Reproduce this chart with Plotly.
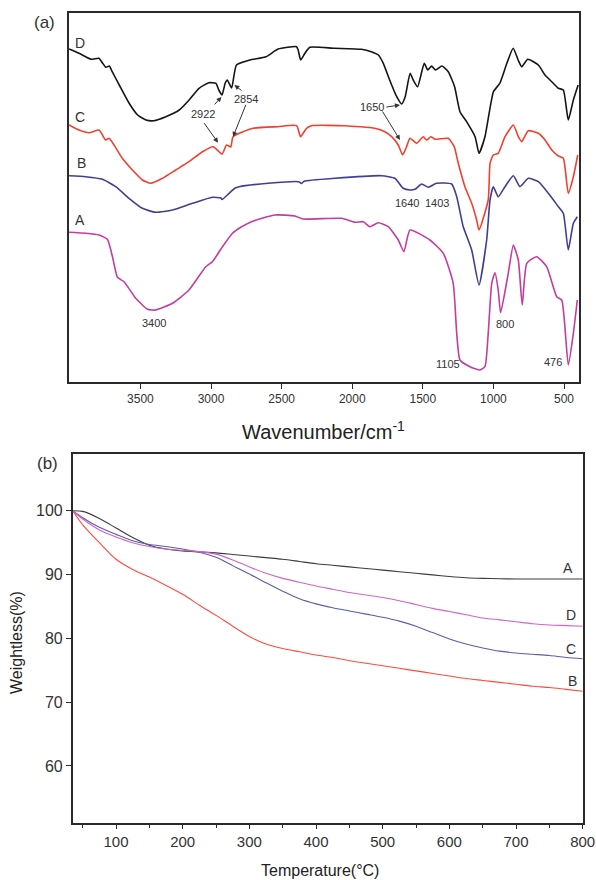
import plotly.graph_objects as go

# ---------------- (a) FTIR spectra (transmittance, arbitrary offset units) ----------------
wn_D = [4005, 3935, 3850, 3795, 3770, 3745, 3720, 3700, 3650, 3580,
        3520, 3460, 3405, 3320, 3225, 3155, 3085, 3015, 2965, 2945,
        2922, 2900, 2885, 2854, 2820, 2725, 2610, 2525, 2395, 2383,
        2365, 2335, 2300, 2125, 1935, 1865, 1815, 1780, 1735, 1685,
        1650, 1625, 1590, 1568, 1537, 1490, 1465, 1438, 1410, 1365,
        1320, 1275, 1237, 1190, 1130, 1102, 1060, 1000, 955, 905,
        860, 825, 800, 757, 682, 635, 587, 540, 505, 470,
        434, 400]
tr_D = [333, 328.7, 322.7, 323.7, 319.3, 314.7, 316, 310.3, 297, 278.7,
        267, 262, 261.3, 265.3, 272, 282, 293.7, 299.3, 298.7, 292,
        287, 298.7, 302, 294, 317, 322, 325.3, 333, 335.3, 332,
        322, 328.7, 334.7, 333.7, 332.7, 330.3, 327, 318.7, 302, 285.3,
        278, 285.3, 308.7, 302, 295.3, 318.7, 312, 316, 312, 316,
        310.3, 295.3, 270.3, 260.3, 245.3, 228.7, 245.3, 290.3, 298.7, 318.7,
        333.7, 322, 315.3, 322.7, 317, 307, 300.3, 293.7, 292, 262,
        282, 297]

wn_C = [4005, 3935, 3864, 3793, 3769, 3746, 3722, 3687, 3628, 3557,
        3486, 3427, 3344, 3250, 3156, 3061, 2985, 2922, 2890, 2860,
        2844, 2702, 2525, 2394, 2366, 2324, 2288, 2052, 1840, 1769,
        1721, 1674, 1643, 1615, 1591, 1544, 1497, 1473, 1443, 1414,
        1320, 1278, 1249, 1202, 1154, 1119, 1102, 1037, 1024, 1001,
        966, 918, 859, 824, 800, 753, 682, 635, 587, 540,
        505, 470, 434, 403]
tr_C = [257, 252, 249.3, 252, 247, 242, 243.7, 237, 223.7, 212,
        202, 198.7, 203.7, 212, 220.3, 230.3, 235.3, 228, 237, 235,
        245.3, 253.7, 255.3, 256.3, 245.3, 253.7, 256.3, 256.3, 253.7, 250.3,
        245.3, 237, 227, 235.3, 243.7, 238.7, 245.3, 242, 245.3, 242.7,
        243.7, 235.3, 218.7, 195.3, 178.7, 162, 152, 182, 218.7, 227,
        228.7, 245.3, 257, 245.3, 240.3, 251.3, 248.7, 242, 232, 226,
        223.7, 188.7, 205.3, 227]

wn_B = [4005, 3888, 3769, 3675, 3581, 3486, 3392, 3273, 3131, 2990,
        2930, 2922, 2872, 2832, 2801, 2596, 2380, 2360, 2340, 2123,
        1792, 1698, 1639, 1591, 1556, 1508, 1462, 1403, 1296, 1260,
        1225, 1214, 1154, 1102, 1048, 1024, 1001, 966, 918, 859,
        812, 753, 682, 611, 540, 505, 470, 434, 406]
tr_B = [206.3, 205.3, 202.7, 195.3, 183.7, 173.7, 169.7, 172, 178.7, 184.7,
        184, 182.5, 188.7, 193.7, 195.3, 198.7, 200.3, 198.5, 200.8, 203.7,
        206.3, 203.7, 193.7, 192, 192.7, 198, 194.7, 198.7, 198, 185.3,
        162, 155.3, 132, 97, 142, 182, 195.3, 185.3, 195.3, 206.3,
        195.3, 203.7, 200.3, 188.7, 175.3, 168.7, 132, 158.7, 165.3]

wn_A = [4005, 3888, 3793, 3734, 3698, 3663, 3616, 3533, 3450, 3392,
        3273, 3156, 3037, 2990, 2919, 2848, 2789, 2713, 2548, 2406,
        2348, 2075, 1981, 1922, 1875, 1816, 1745, 1674, 1634, 1591,
        1450, 1355, 1285, 1260, 1237, 1166, 1095, 1060, 1037, 1012,
        989, 966, 949, 895, 859, 824, 796, 764, 694, 623,
        552, 516, 470, 434, 406]
tr_A = [149.7, 148.7, 147, 142.7, 125.3, 104.7, 100.3, 83.7, 72.7, 72,
        78.7, 92, 115.3, 120.3, 135.3, 148.7, 154.7, 160.3, 167, 166,
        163, 163.7, 159.7, 160.3, 155.3, 159.3, 155.3, 142, 130.3, 152,
        142, 128.7, 98.7, 48.7, 22, 15.3, 12, 15.3, 48.7, 98.7,
        109.3, 92, 69.3, 108.7, 137, 122, 77, 118.7, 125.3, 115.3,
        85.3, 82, 17, 48.7, 82]

ftir_ticks = [3500, 3000, 2500, 2000, 1500, 1000, 500]

# ---------------- (b) TGA curves ----------------
temp = [35, 50, 75, 100, 125, 150, 175, 200, 225, 250,
        275, 300, 325, 350, 375, 400, 425, 450, 475, 500,
        525, 550, 575, 600, 625, 650, 675, 700, 725, 750,
        775, 800]
wt_A = [100, 99.9, 98.8, 97.3, 95.8, 94.6, 94.0, 93.7, 93.55, 93.4,
        93.15, 92.9, 92.65, 92.4, 92.05, 91.7, 91.45, 91.2, 90.95, 90.7,
        90.45, 90.2, 89.95, 89.7, 89.5, 89.4, 89.35, 89.3, 89.3, 89.3,
        89.3, 89.3]
wt_B = [100, 97.8, 95.0, 92.4, 90.8, 89.6, 88.3, 86.9, 85.2, 83.6,
        81.9, 80.3, 79.1, 78.4, 77.9, 77.4, 77.0, 76.5, 76.1, 75.7,
        75.3, 74.9, 74.5, 74.1, 73.7, 73.4, 73.1, 72.8, 72.5, 72.3,
        72.0, 71.7]
wt_C = [100, 98.9, 97.4, 96.3, 95.3, 94.7, 94.4, 94.0, 93.5, 92.7,
        91.4, 90.1, 88.7, 87.4, 86.2, 85.4, 84.8, 84.3, 83.8, 83.3,
        82.7, 81.9, 80.9, 79.9, 79.1, 78.5, 78.0, 77.7, 77.5, 77.3,
        77.0, 76.8]
wt_D = [100, 98.7, 97.0, 95.9, 95.0, 94.4, 94.0, 93.8, 93.6, 93.2,
        92.3, 91.2, 90.2, 89.4, 88.8, 88.2, 87.7, 87.2, 86.8, 86.4,
        85.9, 85.3, 84.7, 84.2, 83.7, 83.2, 82.9, 82.6, 82.3, 82.1,
        82.0, 81.9]

FONT = "Arial, Liberation Sans, sans-serif"
TXT = "#333333"
W, H = 596, 880


def px(x):
    return x / W


def py(y):
    return 1 - y / H


fig = go.Figure()

ftir = [("D", wn_D, tr_D, "#151515"), ("C", wn_C, tr_C, "#f2402e"),
        ("B", wn_B, tr_B, "#3f3f98"), ("A", wn_A, tr_A, "#c23d9e")]
for name, wx, ty, col in ftir:
    fig.add_trace(go.Scatter(x=wx, y=ty, mode="lines", name=name,
                             line=dict(color=col, width=1.6, shape="spline", smoothing=0.5),
                             xaxis="x", yaxis="y", showlegend=False))

tga = [("A", wt_A, "#3c3c3c"), ("B", wt_B, "#ff4b3a"),
       ("C", wt_C, "#5b5bb2"), ("D", wt_D, "#d064c4")]
for name, wy, col in tga:
    fig.add_trace(go.Scatter(x=temp, y=wy, mode="lines", name=name,
                             line=dict(color=col, width=1.1, shape="spline", smoothing=0.8),
                             xaxis="x2", yaxis="y2", showlegend=False))

ann = []


def paper_text(text, x, y, size, color=TXT, angle=0):
    ann.append(dict(text=text, x=px(x), y=py(y), xref="paper", yref="paper",
                    xanchor="center", yanchor="middle", textangle=angle,
                    showarrow=False, font=dict(size=size, color=color, family=FONT)))


paper_text("(a)", 44, 23, 17)
paper_text("(b)", 47, 464, 17)
for t, wx, ty in [("D", 3925, 339), ("C", 3925, 265), ("B", 3918, 219), ("A", 3930, 162)]:
    ann.append(dict(text=t, x=wx, y=ty, xref="x", yref="y", showarrow=False,
                    xanchor="center", yanchor="middle",
                    font=dict(size=14, color=TXT, family=FONT)))
for t, wx, ty in [("2922", 3056, 267.7), ("2854", 2749, 283), ("1650", 1863, 274.7),
                  ("1640", 1615, 179.3), ("1403", 1402, 179.3), ("3400", 3404, 58.7),
                  ("1105", 1320, 17.7), ("800", 918, 58), ("476", 576, 19.7)]:
    ann.append(dict(text=t, x=wx, y=ty, xref="x", yref="y", showarrow=False,
                    xanchor="center", yanchor="middle",
                    font=dict(size=11, color=TXT, family=FONT)))
for hx, hy, tx, ty in [(2926, 285, 2985, 276), (2950, 239.3, 3056, 260.3),
                       (2835, 297, 2773, 290.3), (2844, 245.3, 2749, 278.7),
                       (1662, 277, 1769, 274.7), (1662, 242, 1792, 272)]:
    ann.append(dict(text="", x=hx, y=hy, ax=tx, ay=ty, xref="x", yref="y",
                    axref="x", ayref="y", showarrow=True, arrowhead=2,
                    arrowsize=1, arrowwidth=1, arrowcolor=TXT))
paper_text("Wavenumber/cm<sup>-1</sup>", 323, 430, 20, "#222222")
for t, tx, wy in [("A", 778, 91.05), ("D", 782, 83.6), ("C", 782, 78.3), ("B", 784, 73.3)]:
    ann.append(dict(text=t, x=tx, y=wy, xref="x2", yref="y2", showarrow=False,
                    xanchor="center", yanchor="middle",
                    font=dict(size=14, color=TXT, family=FONT)))
paper_text("Temperature(\u00b0C)", 320, 870, 16, "#222222")
paper_text("Weightless(%)", 16, 643, 16, "#222222", angle=-90)

axcommon = dict(showline=True, mirror=True, linecolor="#2a2a2a", linewidth=1.5,
                showgrid=False, zeroline=False, automargin=False)

fig.update_layout(
    width=W, height=H, margin=dict(l=0, r=0, t=0, b=0, autoexpand=False),
    paper_bgcolor="white", plot_bgcolor="white",
    font=dict(family=FONT, color=TXT),
    annotations=ann,
    xaxis=dict(domain=[px(68.7), px(579)], range=[4008, 394], anchor="y",
               tickmode="array", tickvals=ftir_ticks, ticks="outside", ticklen=5,
               tickcolor="#2a2a2a", tickfont=dict(size=12, color=TXT), **axcommon),
    yaxis=dict(domain=[py(382), py(13)], range=[0, 369], anchor="x",
               showticklabels=False, ticks="", **axcommon),
    xaxis2=dict(domain=[px(72.7), px(582.7)], range=[35, 800], anchor="y2",
                tick0=0, dtick=100, ticks="outside", ticklen=5, tickcolor="#2a2a2a",
                minor=dict(dtick=50, tick0=0, ticks="outside", ticklen=4, tickcolor="#2a2a2a"),
                ticklabeloverflow="allow",
                tickfont=dict(size=15, color=TXT), **axcommon),
    yaxis2=dict(domain=[py(822.7), py(454)], range=[51.1, 108.9], anchor="x2",
                tickmode="array", tickvals=[60, 70, 80, 90, 100], ticks="outside",
                ticklen=5, tickcolor="#2a2a2a", tickfont=dict(size=16, color=TXT),
                **axcommon),
)

# remove the browser's default 8px body margin so the figure sits at the window origin
fig.write_html("out.html", config={"displayModeBar": False},
               post_script="document.body.style.margin='0';"
                           "document.body.style.overflow='hidden';")
